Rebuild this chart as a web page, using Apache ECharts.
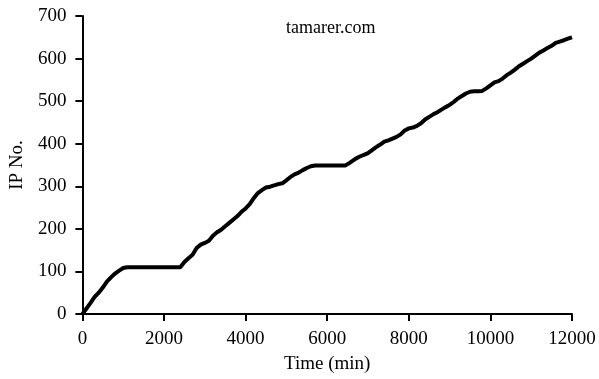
<!DOCTYPE html>
<html>
<head>
<meta charset="utf-8">
<script src="https://cdn.jsdelivr.net/npm/echarts@6/dist/echarts.min.js"></script>
<style>
  html, body { margin: 0; padding: 0; background: #fff; }
  #chart { width: 599px; height: 379px; }
</style>
</head>
<body>
<div id="chart"></div>
<script>
// time (min) and cumulative IP count
const times = [
  0, 100, 200, 300, 400, 500, 600, 700, 800, 900, 1000, 1100,
  2400, 2500, 2600, 2700, 2800, 2900, 3000, 3100, 3200, 3300, 3400, 3500,
  3600, 3700, 3800, 3900, 4000, 4100, 4200, 4300, 4400, 4500, 4600, 4700,
  4800, 4900, 5000, 5100, 5200, 5300, 5400, 5500, 5600, 5700,
  6450, 6550, 6700, 6800, 6900, 7000, 7100, 7200, 7300, 7400, 7500, 7600,
  7700, 7800, 7900, 8000, 8100, 8200, 8300, 8400, 8500, 8600, 8700, 8800,
  8900, 9000, 9100, 9200, 9300, 9400, 9500, 9600, 9700, 9800, 9900, 10000,
  10100, 10200, 10300, 10400, 10500, 10600, 10700, 10800, 10900, 11000,
  11100, 11200, 11300, 11400, 11500, 11600, 11700, 11800, 11900, 12000
]
const ipCount = [
  0, 13, 26, 40, 50, 62, 76, 86, 95, 102, 108, 110,
  110, 122, 131, 139, 155, 163, 167, 172, 184, 192, 198, 206,
  214, 222, 230, 240, 248, 258, 272, 284, 291, 297, 299, 302,
  305, 307, 314, 322, 328, 332, 338, 343, 347, 349,
  349, 355, 365, 370, 374, 378, 385, 392, 398, 405, 408, 412,
  416, 422, 431, 436, 438, 442, 448, 457, 463, 469, 474, 480,
  486, 491, 498, 506, 512, 518, 522, 523, 523, 524, 530, 537,
  544, 547, 553, 561, 567, 574, 582, 588, 594, 600,
  607, 614, 619, 625, 630, 637, 640, 643, 647, 650
]
const siteLabel = 'tamarer.com'

const font = "'Liberation Serif', 'Times New Roman', serif"
const chart = echarts.init(document.getElementById('chart'), null, { renderer: 'canvas' })

const option = {
  animation: false,
  backgroundColor: '#fff',
  title: {
    text: siteLabel,
    left: 281,
    top: 14,
    textStyle: { fontFamily: font, fontSize: 18, fontWeight: 'normal', color: '#000' }
  },
  grid: { left: 82, right: 27, top: 16, bottom: 63 },
  xAxis: {
    type: 'value',
    min: 0,
    max: 12000,
    interval: 2000,
    name: 'Time (min)',
    nameLocation: 'middle',
    nameGap: 41,
    nameTextStyle: { fontFamily: font, fontSize: 19, color: '#000' },
    axisLine: { onZero: false, lineStyle: { color: '#000', width: 2 } },
    axisTick: { show: true, length: 7, lineStyle: { color: '#000', width: 2 } },
    axisLabel: {
      fontFamily: font, fontSize: 19, color: '#000', margin: 16,
      formatter: (v) => String(v)
    },
    splitLine: { show: false }
  },
  yAxis: {
    type: 'value',
    min: 0,
    max: 700,
    interval: 100,
    name: 'IP No.',
    nameLocation: 'middle',
    nameGap: 49,
    nameRotate: 90,
    nameTextStyle: { fontFamily: font, fontSize: 19, color: '#000' },
    axisLine: { show: true, lineStyle: { color: '#000', width: 2 } },
    axisTick: { show: true, length: 7, lineStyle: { color: '#000', width: 2 } },
    axisLabel: { fontFamily: font, fontSize: 19, color: '#000', margin: 16 },
    splitLine: { show: false }
  },
  series: [
    {
      type: 'line',
      data: times.map((t, i) => [t, ipCount[i]]),
      showSymbol: false,
      lineStyle: { color: '#000', width: 4 },
      itemStyle: { color: '#000' }
    }
  ]
}

chart.setOption(option)
</script>
</body>
</html>
